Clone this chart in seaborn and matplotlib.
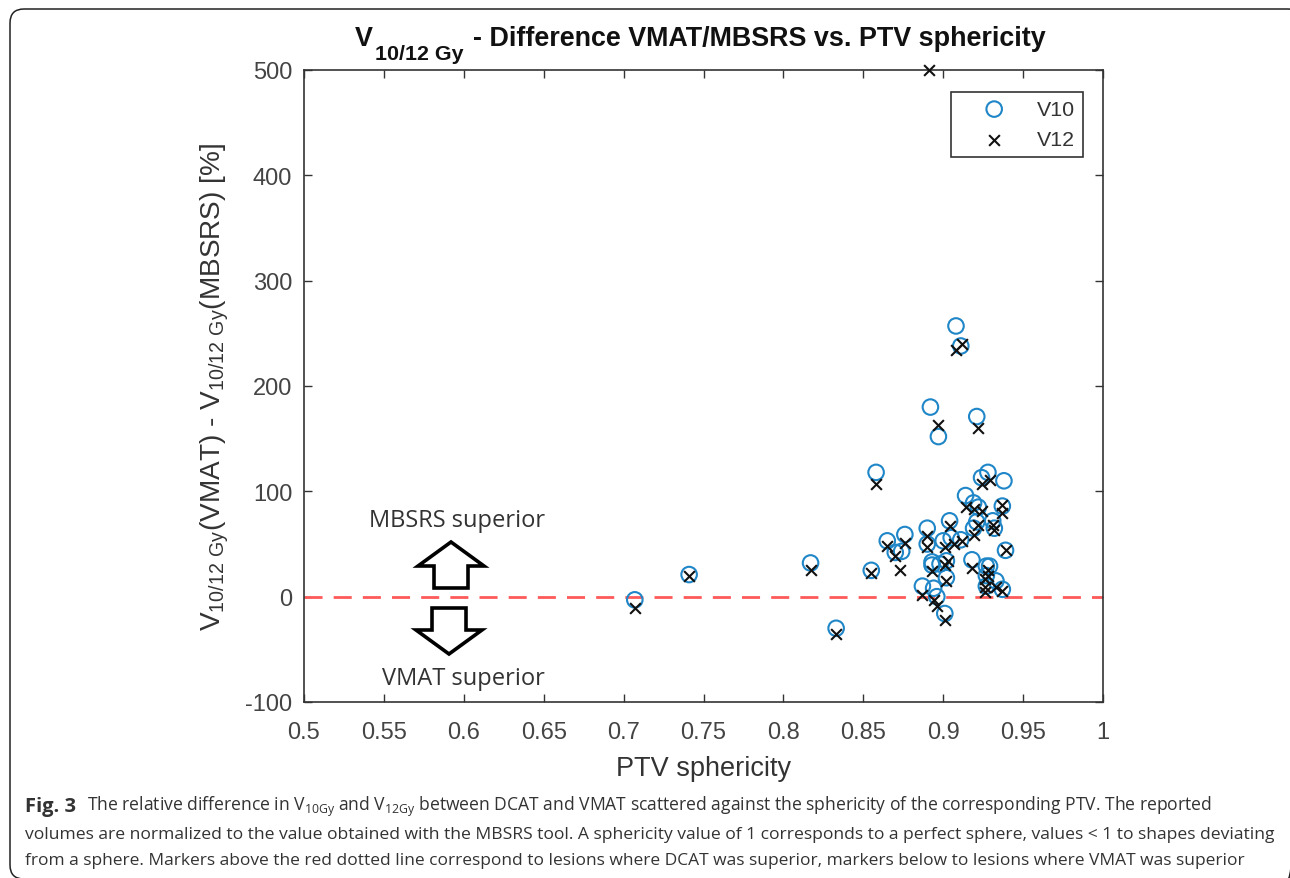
#!/usr/bin/env python

import pandas as pd
import seaborn as sns
from matplotlib import pyplot as plt
from matplotlib.patches import FancyArrow, FancyBboxPatch
from matplotlib.transforms import Affine2D

# values
v10_sphericity = [0.707, 0.741, 0.817, 0.833, 0.908, 0.911, 0.892, 0.921, 0.897, 0.858, 0.928, 0.924,
                  0.938, 0.914, 0.919, 0.922, 0.937, 0.904, 0.931, 0.890, 0.932, 0.919, 0.921, 0.876,
                  0.865, 0.900, 0.905, 0.911, 0.890, 0.874, 0.870, 0.939, 0.918, 0.893, 0.898, 0.902,
                  0.893, 0.855, 0.902, 0.927, 0.929, 0.933, 0.927, 0.927, 0.937, 0.887, 0.894, 0.896,
                  0.901]
v10_diff = [-3, 21, 32, -30, 257, 238, 180, 171, 152, 118, 118, 113,
            110, 96, 89, 85, 86, 72, 72, 65, 65, 65, 71, 59,
            53, 53, 56, 54, 50, 43, 42, 44, 35, 33, 31, 34,
            30, 25, 18, 29, 29, 15, 20, 10, 7, 10, 8, 0,
            -16]

v12_sphericity = [0.707, 0.741, 0.817, 0.833, 0.891, 0.912, 0.908, 0.897, 0.922, 0.858, 0.929, 0.924,
                  0.914, 0.937, 0.937, 0.919, 0.924, 0.904, 0.931, 0.922, 0.932, 0.890, 0.919, 0.876,
                  0.865, 0.912, 0.907, 0.901, 0.890, 0.870, 0.939, 0.873, 0.855, 0.903, 0.901, 0.918,
                  0.893, 0.928, 0.926, 0.902, 0.928, 0.926, 0.933, 0.937, 0.926, 0.887, 0.894, 0.896,
                  0.901]
v12_diff = [-11, 20, 25, -35, 500, 240, 234, 163, 160, 107, 111, 107,
            85, 87, 79, 83, 81, 67, 68, 68, 63, 58, 59, 51,
            48, 53, 50, 47, 47, 39, 44, 25, 22, 34, 30, 27,
            24, 25, 17, 15, 20, 9, 9, 5, 4, 2, -3, -9,
            -22]

x_ticks = [0.5, 0.55, 0.6, 0.65, 0.7, 0.75, 0.8, 0.85, 0.9, 0.95, 1]
x_tick_labels = ['0.5', '0.55', '0.6', '0.65', '0.7', '0.75', '0.8', '0.85', '0.9', '0.95', '1']
y_ticks = [-100, 0, 100, 200, 300, 400, 500]

v10_df = pd.DataFrame({'sphericity': v10_sphericity, 'diff': v10_diff})
v12_df = pd.DataFrame({'sphericity': v12_sphericity, 'diff': v12_diff})

sns.set_style('ticks')
plt.rcParams['font.family'] = ['Liberation Sans', 'DejaVu Sans']
plt.rcParams['axes.unicode_minus'] = False
plt.rcParams['mathtext.fontset'] = 'custom'
plt.rcParams['mathtext.rm'] = 'Liberation Sans'
plt.rcParams['mathtext.sf'] = 'Open Sans'

W, H = 1290, 879
fig = plt.figure(figsize=(12.9, 8.79), dpi=100)
ax = fig.add_axes([304 / W, 1 - 703 / H, 799 / W, 632 / H])

# pixel coordinates of the page, y going down
px = Affine2D().scale(1, -1).translate(0, H)

# rounded frame round the figure and its caption, right side runs off the page
fig.add_artist(FancyBboxPatch((22, 22), 1268, 846, boxstyle='round,pad=12,rounding_size=14', transform=px,
                              fc='none', ec='#222222', lw=1.1))

ax.axhline(0, color='#ff5a5a', lw=2, dashes=(6.5, 4), zorder=1)

sns.scatterplot(data=v10_df, x='sphericity', y='diff', ax=ax, marker='o', s=125, facecolors='none',
                edgecolor='#1f86c8', linewidth=1.5, label='V10', clip_on=False, zorder=2)
sns.scatterplot(data=v12_df, x='sphericity', y='diff', ax=ax, marker='x', s=60, color='#111111',
                linewidth=1.5, label='V12', clip_on=False, zorder=3)

ax.set_xlim(0.5, 1)
ax.set_ylim(-100, 500)
ax.set_xticks(x_ticks)
ax.set_xticklabels(x_tick_labels)
ax.set_yticks(y_ticks)
ax.tick_params(direction='in', length=5.5, width=1, top=True, right=True, labelsize=17,
               labelcolor='#444444', color='#333333')
ax.tick_params(axis='x', pad=13.5)
ax.tick_params(axis='y', pad=8.5)
for side in ax.spines.values():
    side.set_linewidth(1.2)
    side.set_color('#333333')

ax.set_xlabel('PTV sphericity', fontsize=19.5, color='#333333', labelpad=8.5)
ax.set_ylabel(r'V$_{\mathrm{10/12\ Gy}}$(VMAT) - V$_{\mathrm{10/12\ Gy}}$(MBSRS) [%]', fontsize=20.2,
              color='#333333', labelpad=10)

# title in three pieces, the subscript sits lower than mathtext puts it
title_style = {'transform': px, 'fontweight': 'bold', 'color': '#111111', 'va': 'baseline'}
fig.text(355, 46, 'V', fontsize=19.4, **title_style)
fig.text(375, 60, '10/12 Gy', fontsize=15.4, **title_style)
fig.text(473, 46, '- Difference VMAT/MBSRS vs. PTV sphericity', fontsize=19.4, **title_style)

leg = ax.legend(loc='upper right', bbox_to_anchor=(779 / 799, 1 - 22 / 632), borderaxespad=0, fontsize=15.4,
                fancybox=False, framealpha=1, edgecolor='#333333', labelspacing=0.54, borderpad=0.36,
                handlelength=3.36, handletextpad=0.33)
leg.get_frame().set_linewidth(1.2)
for t in leg.get_texts():
    t.set_color('#333333')

# arrows and labels next to the zero line
arrow_style = {'width': 34, 'head_width': 66, 'head_length': 24, 'length_includes_head': True, 'transform': px,
               'fc': 'white', 'ec': 'black', 'lw': 2.6, 'joinstyle': 'miter'}
fig.add_artist(FancyArrow(451, 589, 0, -46, **arrow_style))
fig.add_artist(FancyArrow(449, 609, 0, 46, **arrow_style))
fig.text(457, 521, 'MBSRS superior', transform=px, fontsize=17, family='Open Sans', color='#333333',
         ha='center', va='center')
fig.text(463, 679, 'VMAT superior', transform=px, fontsize=17, family='Open Sans', color='#333333',
         ha='center', va='center')

# caption
cap = {'family': 'Open Sans', 'color': '#333333', 'va': 'center', 'transform': px}
fig.text(25, 807, 'Fig. 3', fontweight='bold', fontsize=14.5, **cap)
fig.text(87, 807, r'The relative difference in V$_{\mathsf{10Gy}}$ and V$_{\mathsf{12Gy}}$ between DCAT and VMAT '
         'scattered against the sphericity of the corresponding PTV. The reported', fontsize=12.63, **cap)
fig.text(25, 835, 'volumes are normalized to the value obtained with the MBSRS tool. A sphericity value of 1 '
         'corresponds to a perfect sphere, values < 1 to shapes deviating', fontsize=12.59, **cap)
fig.text(25, 861, 'from a sphere. Markers above the red dotted line correspond to lesions where DCAT was superior, '
         'markers below to lesions where VMAT was superior', fontsize=12.53, **cap)

plt.savefig('out.png', dpi=100)
